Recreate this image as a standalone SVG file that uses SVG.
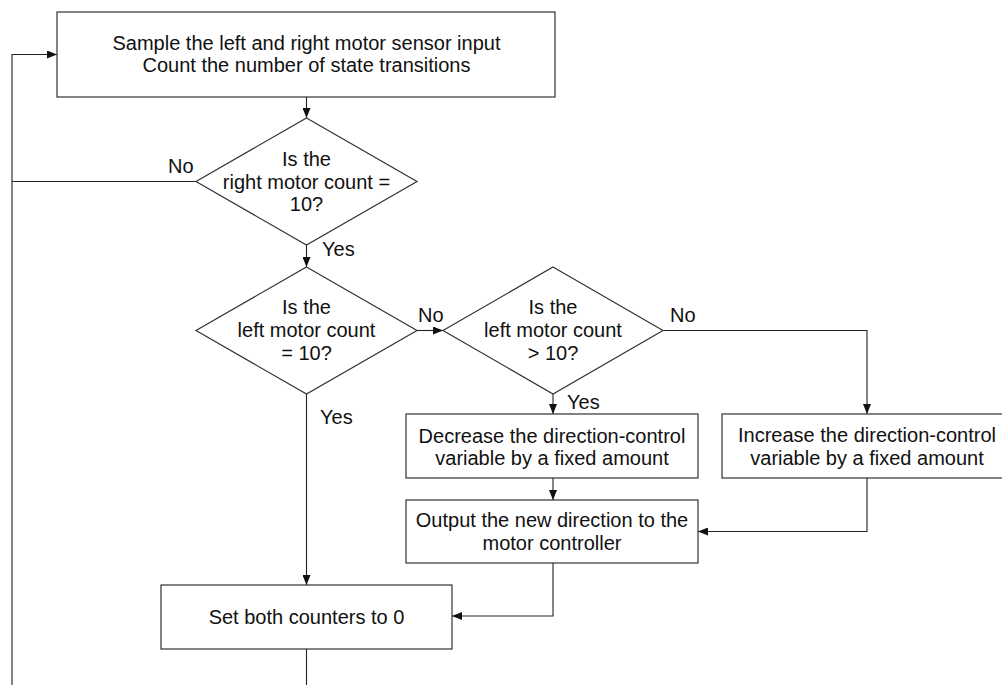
<svg xmlns="http://www.w3.org/2000/svg" width="1002" height="685" viewBox="0 0 1002 685">
<defs>
<style>
.box{fill:#fff;stroke:#333;stroke-width:1.2}
.ln{fill:none;stroke:#222;stroke-width:1.1}
text{font-family:"Liberation Sans",Arial,sans-serif;font-size:20px;fill:#111}
.c{text-anchor:middle}
</style>
<marker id="ah" viewBox="0 0 10 8" refX="10" refY="4" markerWidth="10" markerHeight="8" markerUnits="userSpaceOnUse" orient="auto">
<path d="M0,0 L10,4 L0,8 Z" fill="#111"/>
</marker>
</defs>
<rect width="1002" height="685" fill="#fff"/>
<g id="connectors">
<path class="ln" d="M306.5,97 V118" marker-end="url(#ah)"/>
<path class="ln" d="M196,181.5 H12"/>
<path class="ln" d="M306.5,649 V700 H12 V54.5 H57" marker-end="url(#ah)"/>
<path class="ln" d="M306.5,245 V267" marker-end="url(#ah)"/>
<path class="ln" d="M417,330.5 H443" marker-end="url(#ah)"/>
<path class="ln" d="M553,394 V414" marker-end="url(#ah)"/>
<path class="ln" d="M663,330.5 H867 V414" marker-end="url(#ah)"/>
<path class="ln" d="M553,478 V500" marker-end="url(#ah)"/>
<path class="ln" d="M867,478 V531.5 H698" marker-end="url(#ah)"/>
<path class="ln" d="M553,563 V616 H452" marker-end="url(#ah)"/>
<path class="ln" d="M306.5,394 V585" marker-end="url(#ah)"/>
<text x="168" y="173">No</text>
<text x="322" y="256">Yes</text>
<text x="418" y="322">No</text>
<text x="670" y="322">No</text>
<text x="567" y="409">Yes</text>
<text x="320" y="424">Yes</text>
</g>
<g id="sample">
<rect class="box" x="57" y="12" width="498" height="85"/>
<text class="c" x="306.5" y="49.5">Sample the left and right motor sensor input</text>
<text class="c" x="306.5" y="71.5">Count the number of state transitions</text>
</g>
<g id="rightCount">
<polygon class="box" points="306.5,118 417,181.5 306.5,245 196,181.5"/>
<text class="c" x="306.5" y="166">Is the</text>
<text class="c" x="306.5" y="188.5">right motor count =</text>
<text class="c" x="306.5" y="211">10?</text>
</g>
<g id="leftEq">
<polygon class="box" points="306.5,267 417,330.5 306.5,394 196,330.5"/>
<text class="c" x="306.5" y="313.5">Is the</text>
<text class="c" x="306.5" y="336.5">left motor count</text>
<text class="c" x="306.5" y="359.5">= 10?</text>
</g>
<g id="leftGt">
<polygon class="box" points="553,267 663,330.5 553,394 443,330.5"/>
<text class="c" x="553" y="313.5">Is the</text>
<text class="c" x="553" y="336.5">left motor count</text>
<text class="c" x="553" y="359.5">&gt; 10?</text>
</g>
<g id="decrease">
<rect class="box" x="406" y="414" width="292" height="64"/>
<text class="c" x="552" y="443">Decrease the direction-control</text>
<text class="c" x="552" y="465">variable by a fixed amount</text>
</g>
<g id="increase">
<rect class="box" x="722" y="414" width="292" height="64"/>
<text class="c" x="867" y="442">Increase the direction-control</text>
<text class="c" x="867" y="464.5">variable by a fixed amount</text>
</g>
<g id="output">
<rect class="box" x="406" y="500" width="292" height="63"/>
<text class="c" x="552" y="527">Output the new direction to the</text>
<text class="c" x="552" y="549.5">motor controller</text>
</g>
<g id="reset">
<rect class="box" x="161" y="585" width="291" height="64"/>
<text class="c" x="306.5" y="623.5">Set both counters to 0</text>
</g>
</svg>
